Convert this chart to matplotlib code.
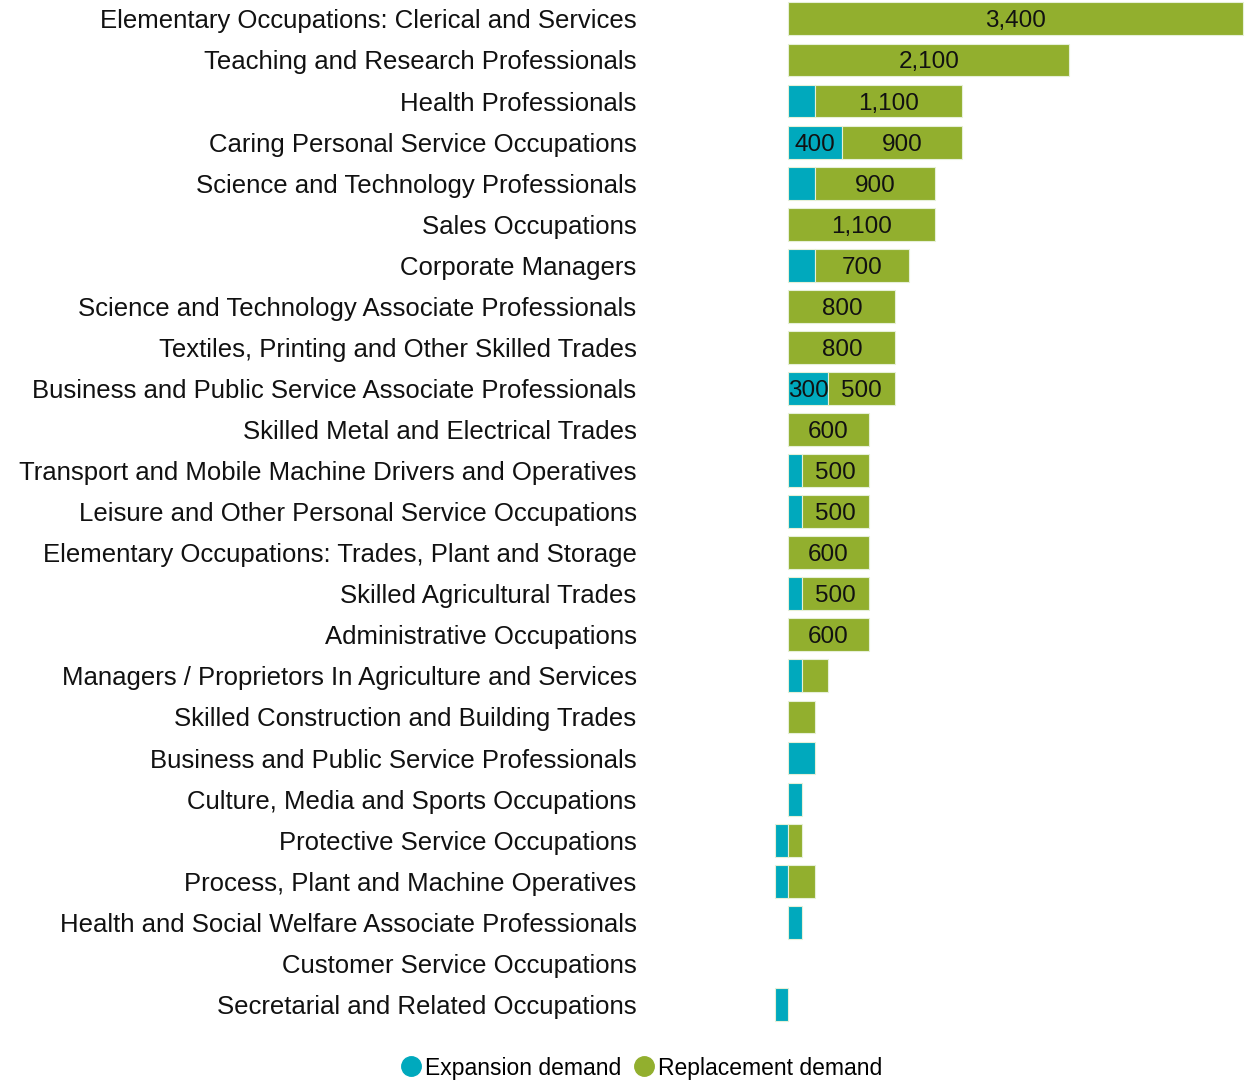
import matplotlib.pyplot as plt
from matplotlib.lines import Line2D

plt.rcParams['font.family'] = ['Liberation Sans', 'DejaVu Sans']

# data (people, rounded to 100s)
occupations = [
    "Elementary Occupations: Clerical and Services",
    "Teaching and Research Professionals",
    "Health Professionals",
    "Caring Personal Service Occupations",
    "Science and Technology Professionals",
    "Sales Occupations",
    "Corporate Managers",
    "Science and Technology Associate Professionals",
    "Textiles, Printing and Other Skilled Trades",
    "Business and Public Service Associate Professionals",
    "Skilled Metal and Electrical Trades",
    "Transport and Mobile Machine Drivers and Operatives",
    "Leisure and Other Personal Service Occupations",
    "Elementary Occupations: Trades, Plant and Storage",
    "Skilled Agricultural Trades",
    "Administrative Occupations",
    "Managers / Proprietors In Agriculture and Services",
    "Skilled Construction and Building Trades",
    "Business and Public Service Professionals",
    "Culture, Media and Sports Occupations",
    "Protective Service Occupations",
    "Process, Plant and Machine Operatives",
    "Health and Social Welfare Associate Professionals",
    "Customer Service Occupations",
    "Secretarial and Related Occupations",
]
expansion = [0, 0, 200, 400, 200, 0, 200, 0, 0, 300, 0, 100, 100, 0, 100, 0,
             100, 0, 200, 100, -100, -100, 100, 0, -100]
replacement = [3400, 2100, 1100, 900, 900, 1100, 700, 800, 800, 500, 600, 500,
               500, 600, 500, 600, 200, 200, 0, 0, 100, 200, 0, 0, 0]

teal = "#00A9BD"
green = "#92AF2E"
edge = "#e6f0d8"

fig = plt.figure(figsize=(12.56, 10.8), dpi=100)
ax = fig.add_axes([761.6 / 1256, 0.051, 488 / 1256, 0.9505])

y = list(range(len(occupations)))
rep_left = [max(e, 0) for e in expansion]

ax.barh(y, expansion, height=0.8, color=teal,
        edgecolor=[edge if e else "none" for e in expansion], linewidth=0.8)
ax.barh(y, replacement, left=rep_left, height=0.8, color=green,
        edgecolor=[edge if r else "none" for r in replacement], linewidth=0.8)

# value labels only where the segment is wide enough
for i in y:
    e = expansion[i]
    r = replacement[i]
    if e >= 300:
        ax.text(e / 2, i, f"{e:,}", ha="center", va="center_baseline",
                fontsize=17.5, color="#111111")
    if r >= 300:
        ax.text(rep_left[i] + r / 2, i, f"{r:,}", ha="center", va="center_baseline",
                fontsize=17.5, color="#111111")

ax.set_xlim(-200, 3450)
ax.set_ylim(24.5, -0.5)
ax.set_yticks(y)
ax.set_yticklabels(occupations, fontsize=18.5, color="#111111")
ax.tick_params(axis="y", length=0, pad=90)
ax.set_xticks([])
for s in ax.spines.values():
    s.set_visible(False)

handles = [
    Line2D([], [], marker="o", linestyle="", markersize=14, color=teal),
    Line2D([], [], marker="o", linestyle="", markersize=14, color=green),
]
fig.legend(handles, ["Expansion demand", "Replacement demand"], loc="center",
           bbox_to_anchor=(640 / 1256, 1 - 1068 / 1080), ncol=2, frameon=False,
           fontsize=16.5, handletextpad=0.0, columnspacing=0.4, handlelength=1.2)

fig.savefig("out.png", dpi=100)
